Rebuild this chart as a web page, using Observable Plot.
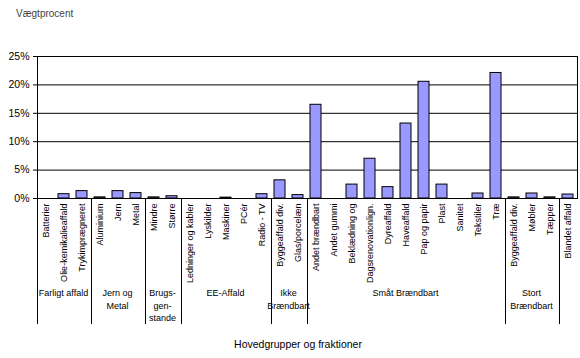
<!DOCTYPE html>
<html>
<head>
<meta charset="utf-8">
<script src="https://cdn.jsdelivr.net/npm/d3@7"></script>
<script src="https://cdn.jsdelivr.net/npm/@observablehq/plot@0.6"></script>
<style>
  body { margin: 0; background: #fff; }
  #chart svg { display: block; }
</style>
</head>
<body>
<div id="chart"></div>
<script>
// ---- data ----
const categories = [
  "Batterier", "Olie-kemikalieaffald", "Trykimprægneret",
  "Aluminium", "Jern", "Metal",
  "Mindre", "Større",
  "Ledninger og kabler", "Lyskilder", "Maskiner", "PCér", "Radio - TV",
  "Byggeaffald div.", "Glas/porcelæn",
  "Andet brændbart", "Andet gummi", "Beklædning og", "Dagsrenovationlign.", "Dyreaffald",
  "Haveaffald", "Pap og papir", "Plast", "Sanitet", "Tekstiler", "Træ",
  "Byggeaffald div.", "Møbler", "Tæpper",
  "Blandet affald"
];
const values = [
  0, 0.76, 1.3,
  0.2, 1.3, 0.95,
  0.2, 0.4,
  0, 0, 0.15, 0, 0.76,
  3.2, 0.6,
  16.5, 0, 2.45, 7.0, 2.0,
  13.2, 20.55, 2.45, 0, 0.88, 22.1,
  0.2, 0.88, 0.2,
  0.7
];
const groupSizes = [3, 3, 2, 5, 2, 11, 3, 1];
const groupLabels = [
  ["Farligt affald"], ["Jern og", "Metal"], ["Brugs-", "gen-", "stande"],
  ["EE-Affald"], ["Ikke", "Brændbart"], ["Småt Brændbart"],
  ["Stort", "Brændbart"], []
];
const yTicks = [0, 5, 10, 15, 20, 25];
const yTitle = "Vægtprocent";
const xTitle = "Hovedgrupper og fraktioner";

// ---- tables ----
const table = categories.map((label, i) => ({i, label, value: values[i]}));
let acc = 0;
const groups = groupSizes.map((n, g) => {
  const row = {start: acc, size: n, lines: groupLabels[g]};
  acc += n;
  return row;
});

const font = "'Liberation Sans', Arial, sans-serif";

const chart = Plot.plot({
  width: 580,
  height: 358,
  marginLeft: 37,
  marginRight: 3,
  marginTop: 56,
  marginBottom: 160,
  style: {fontFamily: font, background: "white", color: "black"},
  x: {type: "band", domain: d3.range(categories.length), paddingInner: 0.38, paddingOuter: 0.19, axis: null},
  y: {domain: [0, 25], axis: null},
  marks: [
    Plot.ruleY(yTicks, {stroke: "black", strokeWidth: 1}),
    Plot.frame({stroke: "black", strokeWidth: 1}),
    Plot.barY(table, {x: "i", y: "value", fill: "#9999ff", stroke: "black", strokeWidth: 1}),
    Plot.axisY({ticks: yTicks, tickFormat: d => d + "%", tickSize: 4, tickPadding: 4, fontSize: 10.5, label: null, stroke: "black"}),
    Plot.axisX({tickFormat: i => categories[i], tickRotate: -90, tickSize: 0, tickPadding: 5, fontSize: 9, label: null})
  ]
});

// ---- group dividers and labels, positioned via the plot's own scales ----
const sx = chart.scale("x");
const sy = chart.scale("y");
const n = categories.length;
const step = sx.step ?? ((sx.range[1] - sx.range[0]) / n);
const left = i => sx.apply(i) - (step - sx.bandwidth) / 2; // band slot start
const y0 = sy.apply(0);
const svg = d3.select(chart);
const g = svg.append("g").attr("font-family", font).attr("fill", "black");

// dividers: left edge of each group (except the right frame edge)
groups.forEach(gr => {
  const x = Math.round(left(gr.start)) + 0.5;
  g.append("line")
    .attr("x1", x).attr("x2", x)
    .attr("y1", y0).attr("y2", y0 + 126)
    .attr("stroke", "black");
});

// group labels
groups.forEach(gr => {
  const cx = (left(gr.start) + left(gr.start) + gr.size * step) / 2;
  gr.lines.forEach((line, k) => {
    g.append("text")
      .attr("x", cx)
      .attr("y", y0 + 96 + k * 12.5)
      .attr("text-anchor", "middle")
      .attr("dominant-baseline", "middle")
      .attr("font-size", 9)
      .text(line);
  });
});

// titles
const [xr0, xr1] = sx.range;
g.append("text")
  .attr("x", (xr0 + xr1) / 2 - 9)
  .attr("y", y0 + 147)
  .attr("text-anchor", "middle")
  .attr("dominant-baseline", "middle")
  .attr("font-size", 10.5)
  .text(xTitle);
g.append("text")
  .attr("x", 16)
  .attr("y", 14)
  .attr("text-anchor", "start")
  .attr("dominant-baseline", "middle")
  .attr("font-size", 10)
  .attr("fill", "#444")
  .text(yTitle);

document.getElementById("chart").appendChild(chart);
</script>
</body>
</html>
